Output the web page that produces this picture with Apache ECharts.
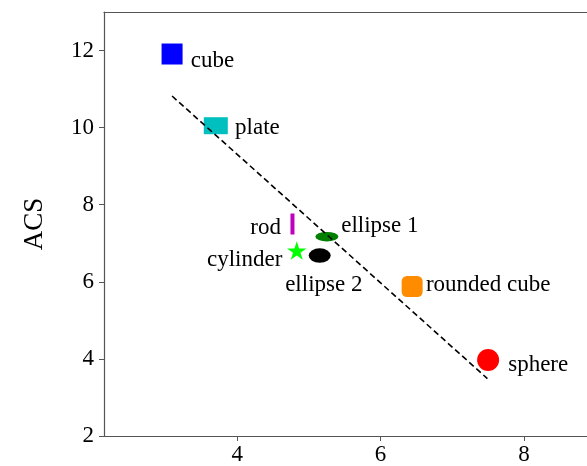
<!DOCTYPE html>
<html>
<head>
<meta charset="utf-8">
<script src="https://cdn.jsdelivr.net/npm/echarts@6/dist/echarts.min.js"></script>
<style>
  html, body { margin: 0; padding: 0; background: #fff; }
  #chart { width: 587px; height: 466px; }
</style>
</head>
<body>
<div id="chart"></div>
<script>
// Shapes and their measured ACS values
const shapeNames = ['cube', 'plate', 'rod', 'cylinder', 'ellipse 1', 'ellipse 2', 'rounded cube', 'sphere'];
const xValues = [3.09, 3.70, 4.77, 4.83, 5.25, 5.15, 6.44, 7.50];
const yValues = [11.91, 10.05, 7.50, 6.81, 7.17, 6.68, 5.88, 3.97];

// Linear trend (end points)
const trendX = [3.09, 7.49];
const trendY = [10.82, 3.49];

// Tick labels
const xTicks = [4, 6, 8];
const yTicks = [2, 4, 6, 8, 10, 12];

const FONT = '"Liberation Serif", "Times New Roman", serif';
const AXIS_COLOR = '#555';
const TEXT_COLOR = '#000';

const STAR = 'path://M0,-100 L22.45,-30.9 L95.1,-30.9 L36.33,11.8 L58.8,80.9 L0,38.2 L-58.8,80.9 L-36.33,11.8 L-95.1,-30.9 L-22.45,-30.9 Z';

// Per-shape marker look and label placement
const markerStyles = {
  'cube':         { symbol: 'rect',      size: 21,          color: '#0000ff', align: 'left',   offset: [18.7, 6.5] },
  'plate':        { symbol: 'rect',      size: [24, 17],    color: '#00bfbf', align: 'left',   offset: [19.3, 2.5] },
  'rod':          { symbol: 'rect',      size: [4, 21],     color: '#bf00bf', align: 'right',  offset: [-11.5, 3.8] },
  'cylinder':     { symbol: STAR,        size: [19.5, 18.5], color: '#00ff00', align: 'right', offset: [-14.4, 9.7] },
  'ellipse 1':    { symbol: 'circle',    size: [23, 9.5],   color: '#007f00', align: 'left',   offset: [14.3, -11] },
  'ellipse 2':    { symbol: 'circle',    size: [22, 14.5],  color: '#000000', align: 'center', offset: [4.1, 29.8] },
  'rounded cube': { symbol: 'roundRect', size: 21,          color: '#ff8c00', align: 'left',   offset: [13.8, -1.3] },
  'sphere':       { symbol: 'circle',    size: 22,          color: '#ff0000', align: 'left',   offset: [20.1, 5.2] }
};

const points = shapeNames.map((name, i) => {
  const s = markerStyles[name];
  return {
    name: name,
    value: [xValues[i], yValues[i]],
    symbol: s.symbol,
    symbolSize: s.size,
    itemStyle: { color: s.color, opacity: 1 },
    label: {
      show: true,
      formatter: name,
      position: 'inside',
      align: s.align,
      verticalAlign: 'middle',
      offset: s.offset,
      color: TEXT_COLOR,
      fontFamily: FONT,
      fontSize: 23
    }
  };
});

const chart = echarts.init(document.getElementById('chart'), null, { renderer: 'canvas' });

const tickText = { color: TEXT_COLOR, fontFamily: FONT, fontSize: 23 };

chart.setOption({
  animation: false,
  backgroundColor: '#fff',
  textStyle: { fontFamily: FONT },
  grid: { left: 104, right: 0, top: 12, bottom: 27, containLabel: false },
  xAxis: [
    {
      type: 'value',
      min: 2.14,
      max: 8.88,
      position: 'bottom',
      splitLine: { show: false },
      axisLine: { show: true, lineStyle: { color: AXIS_COLOR, width: 1.2 } },
      axisTick: { show: true, inside: false, length: 5, customValues: xTicks, lineStyle: { color: AXIS_COLOR } },
      axisLabel: Object.assign({ customValues: xTicks, margin: 7 }, tickText)
    },
    {
      type: 'value',
      min: 2.14,
      max: 8.88,
      position: 'top',
      splitLine: { show: false },
      axisLine: { show: true, lineStyle: { color: AXIS_COLOR, width: 1.2 } },
      axisTick: { show: false },
      axisLabel: { show: false }
    }
  ],
  yAxis: {
    type: 'value',
    min: 2,
    max: 13,
    name: 'ACS',
    nameLocation: 'middle',
    nameRotate: 90,
    nameGap: 56,
    nameTextStyle: { fontFamily: FONT, fontSize: 27, color: TEXT_COLOR },
    splitLine: { show: false },
    axisLine: { show: true, lineStyle: { color: AXIS_COLOR, width: 1.2 } },
    axisTick: { show: true, inside: false, length: 5, customValues: yTicks, lineStyle: { color: AXIS_COLOR } },
    axisLabel: Object.assign({ customValues: yTicks, margin: 10 }, tickText)
  },
  series: [
    {
      type: 'scatter',
      xAxisIndex: 0,
      data: points,
      z: 2
    },
    {
      type: 'line',
      xAxisIndex: 0,
      data: trendX.map((x, i) => [x, trendY[i]]),
      showSymbol: false,
      symbol: 'none',
      lineStyle: { color: '#000', width: 1.6, type: [6, 3.5] },
      z: 3
    }
  ]
});
</script>
</body>
</html>
